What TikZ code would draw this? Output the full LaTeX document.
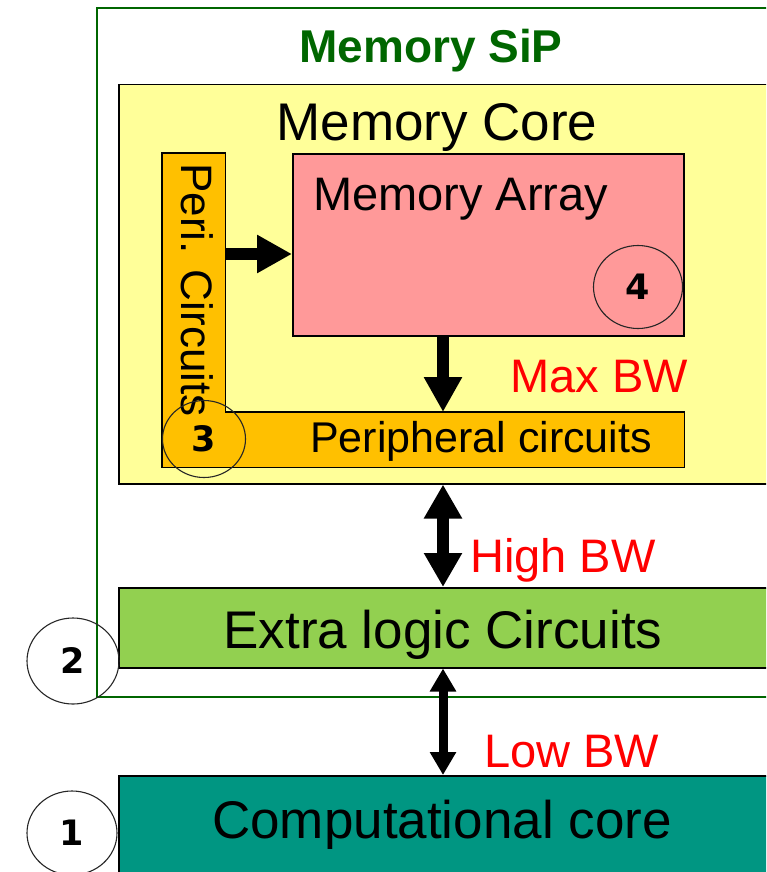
\documentclass[tikz,border=0pt]{standalone}
\usepackage{fontspec}
\setmainfont{Liberation Sans}
\newfontfamily\numfont{DejaVu Sans}
\usetikzlibrary{arrows,arrows.meta}
\usetikzlibrary{shapes.geometric}
\definecolor{sipgreen}{RGB}{0,102,0}
\definecolor{coreyellow}{RGB}{255,255,153}
\definecolor{arraypink}{RGB}{255,153,153}
\definecolor{periorange}{RGB}{255,192,0}
\definecolor{logicgreen}{RGB}{146,208,80}
\definecolor{compteal}{RGB}{0,150,130}
\definecolor{bwred}{RGB}{255,0,0}

\begin{document}
\begin{tikzpicture}[x=1pt,y=-1pt,
	box/.style={draw=black,line width=1.5pt,anchor=north west,inner sep=0pt},
	txt/.style={inner sep=0pt,anchor=base,font=\fontsize{53}{60}\selectfont},
	bw/.style={inner sep=0pt,anchor=base west,text=bwred,font=\fontsize{47}{54}\selectfont},
	num/.style={ellipse,draw=black!85,line width=1.1pt,inner sep=0pt,font=\numfont\bfseries\fontsize{35}{40}\selectfont},
	fat/.style={line width=12pt,-{Triangle[length=35pt,width=36pt]}},
	fatboth/.style={line width=12pt,{Triangle[length=34pt,width=36pt]}-{Triangle[length=34pt,width=36pt]}},
	slimboth/.style={line width=9pt,{Triangle[length=23pt,width=25pt]}-{Triangle[length=23pt,width=25pt]}}]
	\useasboundingbox (0,0) rectangle (766,872);
	\clip (0,0) rectangle (766,872);
	\node[box,draw=sipgreen,line width=2pt,minimum width=720,minimum height=689,name=Sip] at (96,7) {};
	\node[box,fill=coreyellow,minimum width=700,minimum height=399,name=Core] at (118,84) {};
	\node[box,fill=arraypink,minimum width=391,minimum height=182,name=Arr] at (292,153) {};
	\node[box,draw=none,fill=periorange,minimum width=62,minimum height=313,name=PeriV] at (162,153) {};
	\node[box,draw=none,fill=periorange,minimum width=521,minimum height=54,name=PeriH] at (162,412) {};
	\draw[line width=1.5pt] (PeriV.north west) -- (PeriV.north east) -- (PeriV.east |- PeriH.north)
		-- (PeriH.north east) -- (PeriH.south east) -- (PeriH.south west) -- cycle;
	\node[box,fill=logicgreen,minimum width=700,minimum height=80,name=Ext] at (118,587) {};
	\node[box,fill=compteal,minimum width=700,minimum height=120,name=Comp] at (118,775) {};

	\node[txt,text=sipgreen,font=\bfseries\fontsize{46}{52}\selectfont,name=SipT] at (431,63) {Memory SiP};
	\node[txt,name=CoreT] at (437,140) {Memory Core};
	\node[txt,anchor=base west,font=\fontsize{47}{54}\selectfont,name=ArrT] at (313,210) {Memory Array};
	\node[txt,anchor=base west,rotate=-90,font=\fontsize{44}{50}\selectfont,name=PeriVT] at (181,163) {Peri. Circuits};
	\node[txt,font=\fontsize{43}{50}\selectfont,name=PeriHT] at (481,452) {Peripheral circuits};
	\node[txt,name=ExtT] at (443,648) {Extra logic Circuits};
	\node[txt,name=CompT] at (442,838) {Computational core};

	\node[bw,name=MaxBW] at (510,392) {Max BW};
	\node[bw,name=HighBW] at (470,572) {High BW};
	\node[bw,name=LowBW] at (484,767) {Low BW};

	\coordinate (bus) at (443,0);
	\draw[fat] (PeriV.east |- 0,254) -- (Arr.west |- 0,254);
	\draw[fat] (bus |- Arr.south) -- (bus |- PeriH.north);
	\draw[fatboth] (bus |- Core.south) -- (bus |- Ext.north);
	\draw[slimboth] (bus |- Ext.south) -- (bus |- Comp.north);

	\node[num,minimum width=89,minimum height=83,name=N4] at (638,287) {4};
	\node[num,minimum width=83,minimum height=77,name=N3] at (204,439) {3};
	\node[num,minimum width=92,minimum height=86,name=N2] at (73,661) {2};
	\node[num,minimum width=90,minimum height=84,name=N1] at (72,833) {1};
\end{tikzpicture}
\end{document}
